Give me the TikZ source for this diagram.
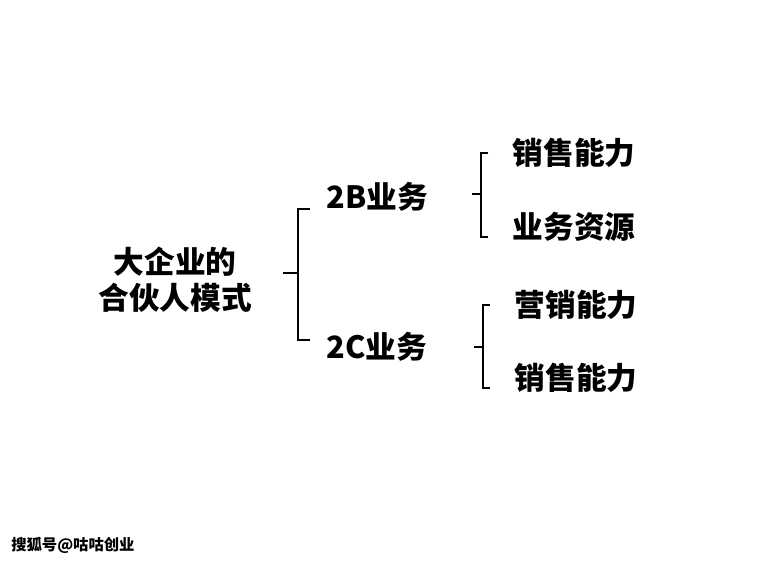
\documentclass[tikz,border=0pt]{standalone}
\usepackage{fontspec}
\setmainfont{Noto Sans CJK SC}
\usetikzlibrary{positioning}

\begin{document}
\begin{tikzpicture}[x=0.75pt, y=-0.75pt, every node/.style={font=\fontsize{23}{27}\selectfont\bfseries}]
\tikzstyle{item}=[inner sep=0pt, align=center, anchor=center]
\tikzstyle{brace}=[draw, line width=1.7pt, line cap=butt, line join=miter]
\useasboundingbox (0,0) rectangle (759,563);
\fill[white] (0,0) rectangle (759,563);
\node[item] (root) at (175,280) {大企业的\\合伙人模式};
\node[item] (tob) at (377,197) {2B业务};
\node[item] (toc) at (377,347) {2C业务};
\node[item] (sales) at (574,153) {销售能力};
\node[item] (res) at (574,227) {业务资源};
\node[item] (mkt) at (576,305) {营销能力};
\node[item] (sales2) at (576,378) {销售能力};
\node[font=\fontsize{11.5}{13}\selectfont\bfseries, anchor=west, inner sep=0pt] (mark) at (11,545) {搜狐号@咕咕创业};
% brackets
\coordinate (b0) at (298,273);
\draw[brace] (b0 -| 283,0) -- (b0);
\draw[brace] (310,209) -- (298,209) -- (298,340) -- (310,340);
\coordinate (b1) at (481,194);
\draw[brace] (b1 -| 472,0) -- (b1);
\draw[brace] (488,153) -- (481,153) -- (481,237) -- (488,237);
\coordinate (b2) at (483,347);
\draw[brace] (b2 -| 474,0) -- (b2);
\draw[brace] (490,305) -- (483,305) -- (483,388) -- (490,388);
\end{tikzpicture}
\end{document}
